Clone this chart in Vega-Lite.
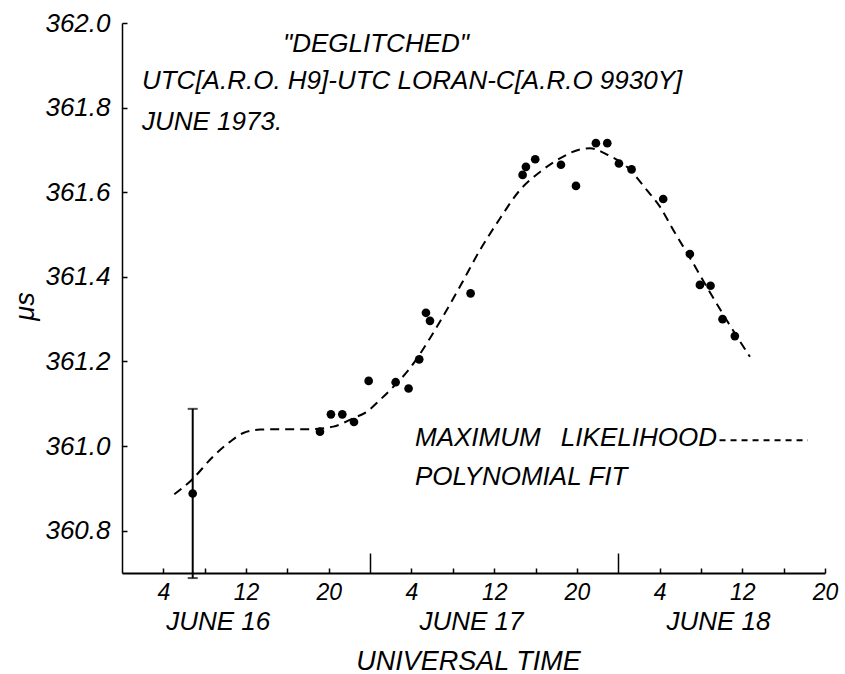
{
  "$schema": "https://vega.github.io/schema/vega-lite/v6.json",
  "width": 703,
  "height": 550,
  "autosize": {"type": "none"},
  "padding": {"left": 122, "top": 23, "right": 20, "bottom": 101},
  "background": "white",
  "config": {
    "view": {"stroke": null},
    "font": "Liberation Sans",
    "axis": {"domainColor": "black", "tickColor": "black", "labelColor": "black", "titleColor": "black", "grid": false, "labelFont": "Liberation Sans", "titleFont": "Liberation Sans", "labelFontStyle": "italic", "titleFontStyle": "italic", "titleFontWeight": "normal"}
  },
  "datasets": {
    "obs": [
      {"hour": 6.84, "us": 360.888},
      {"hour": 19.15, "us": 361.034},
      {"hour": 20.21, "us": 361.075},
      {"hour": 21.31, "us": 361.075},
      {"hour": 22.44, "us": 361.057},
      {"hour": 23.86, "us": 361.154},
      {"hour": 26.47, "us": 361.151},
      {"hour": 27.72, "us": 361.136},
      {"hour": 28.75, "us": 361.205},
      {"hour": 29.40, "us": 361.315},
      {"hour": 29.79, "us": 361.296},
      {"hour": 33.72, "us": 361.361},
      {"hour": 38.75, "us": 361.641},
      {"hour": 39.07, "us": 361.660},
      {"hour": 39.97, "us": 361.678},
      {"hour": 42.46, "us": 361.665},
      {"hour": 43.91, "us": 361.615},
      {"hour": 45.84, "us": 361.716},
      {"hour": 46.94, "us": 361.716},
      {"hour": 48.07, "us": 361.668},
      {"hour": 49.29, "us": 361.654},
      {"hour": 52.35, "us": 361.584},
      {"hour": 54.93, "us": 361.454},
      {"hour": 55.90, "us": 361.381},
      {"hour": 56.93, "us": 361.379},
      {"hour": 58.09, "us": 361.300},
      {"hour": 59.28, "us": 361.260}
    ],
    "err": [
      {"hour": 6.84, "lo": 360.688, "hi": 361.088}
    ],
    "fit": [
      {"hour": 5.06, "us": 360.886},
      {"hour": 6.74, "us": 360.920},
      {"hour": 8.80, "us": 360.975},
      {"hour": 10.44, "us": 361.010},
      {"hour": 11.73, "us": 361.031},
      {"hour": 13.35, "us": 361.039},
      {"hour": 15.28, "us": 361.040},
      {"hour": 18.18, "us": 361.040},
      {"hour": 20.44, "us": 361.046},
      {"hour": 22.37, "us": 361.066},
      {"hour": 23.67, "us": 361.081},
      {"hour": 24.95, "us": 361.109},
      {"hour": 26.24, "us": 361.140},
      {"hour": 27.85, "us": 361.184},
      {"hour": 29.79, "us": 361.255},
      {"hour": 30.75, "us": 361.294},
      {"hour": 32.69, "us": 361.377},
      {"hour": 34.62, "us": 361.463},
      {"hour": 36.56, "us": 361.538},
      {"hour": 38.49, "us": 361.605},
      {"hour": 40.43, "us": 361.648},
      {"hour": 42.36, "us": 361.680},
      {"hour": 44.29, "us": 361.701},
      {"hour": 45.26, "us": 361.704},
      {"hour": 47.00, "us": 361.688},
      {"hour": 48.84, "us": 361.660},
      {"hour": 50.77, "us": 361.605},
      {"hour": 52.03, "us": 361.566},
      {"hour": 53.32, "us": 361.511},
      {"hour": 55.25, "us": 361.432},
      {"hour": 56.55, "us": 361.377},
      {"hour": 58.48, "us": 361.298},
      {"hour": 60.74, "us": 361.211}
    ],
    "notes": [
      {"hour": 15.57, "us": 361.950, "text": "\"DEGLITCHED\""},
      {"hour": 1.93, "us": 361.863, "text": "UTC[A.R.O. H9]-UTC LORAN-C[A.R.O 9930Y]"},
      {"hour": 1.93, "us": 361.766, "text": "JUNE 1973."},
      {"hour": 28.34, "us": 361.019, "text": "MAXIMUM\u2002\u00a0LIKELIHOOD"},
      {"hour": 28.34, "us": 360.927, "text": "POLYNOMIAL FIT"}
    ],
    "days": [
      {"hour": 9.3, "us": 360.584, "text": "JUNE 16"},
      {"hour": 33.8, "us": 360.584, "text": "JUNE 17"},
      {"hour": 57.7, "us": 360.584, "text": "JUNE 18"}
    ],
    "key": [
      {"hour": 57.8, "hour2": 66.34, "us": 361.014}
    ]
  },
  "layer": [
    {
      "data": {"name": "obs"},
      "mark": {"type": "circle", "size": 75, "color": "black", "opacity": 1},
      "encoding": {
        "x": {
          "field": "hour", "type": "quantitative",
          "scale": {"domain": [0, 68], "nice": false, "zero": false},
          "axis": {
            "values": [4, 8, 12, 16, 20, 24, 28, 32, 36, 40, 44, 48, 52, 56, 60, 64, 68],
            "labelExpr": "indexof([4,12,20], datum.value % 24) >= 0 ? '' + (datum.value % 24) : ''",
            "tickSize": {"condition": {"test": "datum.value % 24 === 0", "value": -20}, "value": -5},
            "tickWidth": 1.5,
            "domainWidth": 2,
            "labelFontSize": 23,
            "labelPadding": 13,
            "labelFlush": false,
            "labelOverlap": false,
            "title": "UNIVERSAL TIME",
            "titleFontSize": 27,
            "titleX": 346,
            "titleY": 88,
            "titleBaseline": "middle",
            "titleAlign": "center"
          }
        },
        "y": {
          "field": "us", "type": "quantitative",
          "scale": {"domain": [360.7, 362.0], "nice": false, "zero": false},
          "axis": {
            "values": [360.8, 361.0, 361.2, 361.4, 361.6, 361.8, 362.0],
            "format": ".1f",
            "tickSize": -5,
            "tickWidth": 1.5,
            "domainWidth": 1.5,
            "labelFontSize": 26,
            "labelPadding": 17,
            "labelOverlap": false,
            "title": "μs",
            "titleFontSize": 27,
            "titleAngle": -90,
            "titleX": -97,
            "titleY": 283,
            "titleBaseline": "middle",
            "titleAlign": "center"
          }
        }
      }
    },
    {
      "data": {"name": "err"},
      "mark": {"type": "errorbar", "color": "black", "ticks": {"size": 10, "thickness": 2, "color": "black"}, "rule": {"strokeWidth": 2}},
      "encoding": {
        "x": {"field": "hour", "type": "quantitative", "title": "UNIVERSAL TIME"},
        "y": {"field": "lo", "type": "quantitative", "title": "μs"},
        "y2": {"field": "hi"}
      }
    },
    {
      "data": {"name": "fit"},
      "mark": {"type": "line", "interpolate": "monotone", "strokeDash": [9, 6], "strokeWidth": 2, "color": "black"},
      "encoding": {
        "x": {"field": "hour", "type": "quantitative", "title": "UNIVERSAL TIME"},
        "y": {"field": "us", "type": "quantitative", "title": "μs"}
      }
    },
    {
      "data": {"name": "key"},
      "mark": {"type": "rule", "strokeDash": [6, 5], "strokeWidth": 2, "color": "black"},
      "encoding": {
        "x": {"field": "hour", "type": "quantitative", "title": "UNIVERSAL TIME"},
        "x2": {"field": "hour2"},
        "y": {"field": "us", "type": "quantitative", "title": "μs"}
      }
    },
    {
      "data": {"name": "notes"},
      "mark": {"type": "text", "align": "left", "baseline": "middle", "font": "Liberation Sans", "fontStyle": "italic", "fontSize": 26, "color": "black"},
      "encoding": {
        "x": {"field": "hour", "type": "quantitative", "title": "UNIVERSAL TIME"},
        "y": {"field": "us", "type": "quantitative", "title": "μs"},
        "text": {"field": "text"}
      }
    },
    {
      "data": {"name": "days"},
      "mark": {"type": "text", "align": "center", "baseline": "middle", "font": "Liberation Sans", "fontStyle": "italic", "fontSize": 26, "color": "black"},
      "encoding": {
        "x": {"field": "hour", "type": "quantitative", "title": "UNIVERSAL TIME"},
        "y": {"field": "us", "type": "quantitative", "title": "μs"},
        "text": {"field": "text"}
      }
    }
  ]
}
